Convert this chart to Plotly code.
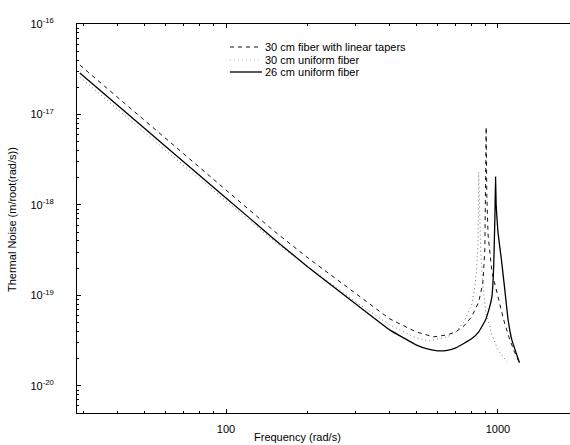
import plotly.graph_objects as go

# Frequencies (rad/s) and thermal noise (m/root(rad/s))
freq_taper = [29, 40, 60, 100, 150, 200, 300, 400, 500, 580, 650, 700, 750, 800, 850,
              880, 895, 900, 905, 910, 920, 950, 1000, 1050, 1100, 1150, 1200]
noise_taper = [3.52e-17, 1.54e-17, 5.43e-18, 1.465e-18, 5.16e-19, 2.60e-19, 1.04e-19,
               5.50e-20, 3.95e-20, 3.48e-20, 3.66e-20, 3.95e-20, 4.60e-20, 5.79e-20,
               8.48e-20, 1.374e-19, 3.18e-19, 8.81e-19, 7.28e-18, 1.29e-18, 4.66e-19,
               1.82e-19, 9.38e-20, 5.36e-20, 3.39e-20, 2.375e-20, 1.795e-20]

freq_30 = [29, 40, 60, 100, 150, 200, 300, 400, 500, 560, 650, 700, 750, 800, 820,
           835, 845, 850, 855, 865, 880, 900, 950, 1000, 1080]
noise_30 = [2.60e-17, 1.136e-17, 4.00e-18, 1.107e-18, 4.00e-19, 2.065e-19, 8.48e-20,
            4.72e-20, 3.39e-20, 3.14e-20, 3.48e-20, 3.95e-20, 5.10e-20, 7.85e-20,
            1.15e-19, 1.913e-19, 4.10e-19, 2.315e-18, 8.81e-19, 2.80e-19, 1.306e-19,
            6.92e-20, 3.66e-20, 2.50e-20, 1.842e-20]

freq_26 = [29, 40, 60, 100, 150, 200, 300, 400, 500, 550, 600, 650, 700, 800, 850, 900, 930,
           950, 960, 965, 975, 980, 985, 1000, 1030, 1060, 1090, 1125, 1200]
noise_26 = [2.87e-17, 1.257e-17, 4.43e-18, 1.195e-18, 4.21e-19, 2.065e-19, 8.05e-20,
            4.16e-20, 2.84e-20, 2.56e-20, 2.44e-20, 2.47e-20, 2.63e-20, 3.31e-20, 3.95e-20,
            5.36e-20, 7.28e-20, 9.63e-20, 1.48e-19, 2.17e-19, 7.75e-19, 2.04e-18, 1.0e-18,
            5.03e-19, 2.47e-19, 1.15e-19, 5.36e-20, 3.22e-20, 1.80e-20]

series_names = ["30 cm fiber with linear tapers", "30 cm uniform fiber", "26 cm uniform fiber"]
y_tick_vals = [1e-20, 1e-19, 1e-18, 1e-17, 1e-16]
y_tick_text = ["10<sup>-20</sup>", "10<sup>-19</sup>", "10<sup>-18</sup>",
               "10<sup>-17</sup>", "10<sup>-16</sup>"]
y_minor_vals = [m * 10.0 ** e for e in (-21, -20, -19, -18, -17) for m in range(2, 10)]
x_tick_vals = [100, 1000]
x_tick_text = ["100", "1000"]
x_minor_vals = [m * 10.0 ** e for e in (1, 2, 3) for m in range(2, 10)]

FONT = "Liberation Sans, Arial, sans-serif"

fig = go.Figure()
fig.add_trace(go.Scatter(x=freq_taper, y=noise_taper, mode="lines", name=series_names[0],
                         line=dict(color="#111", width=1, dash="4px,4px"), showlegend=False))
fig.add_trace(go.Scatter(x=freq_30, y=noise_30, mode="lines", name=series_names[1],
                         line=dict(color="#777", width=1, dash="1px,3px"), showlegend=False))
fig.add_trace(go.Scatter(x=freq_26, y=noise_26, mode="lines", name=series_names[2],
                         line=dict(color="#000", width=1.3, shape="spline", smoothing=0.3),
                         showlegend=False))

# legend drawn as key lines + text to match compact spacing
leg_rows = [47, 60, 72]
styles = [dict(color="#111", width=1, dash="4px,4px"),
          dict(color="#bbb", width=1, dash="1px,3px"),
          dict(color="#000", width=1.3)]
W, H = 570, 445
L, T, B = 77, 24, 32
pw, ph = W - L, H - T - B
for name, row, st in zip(series_names, leg_rows, styles):
    yp = (H - B - row) / ph
    fig.add_shape(type="line", xref="paper", yref="paper",
                  x0=(230 - L) / pw, x1=(262 - L) / pw, y0=yp, y1=yp,
                  line=st)
    fig.add_annotation(xref="paper", yref="paper", x=(263 - L) / pw, y=yp,
                       text=name, showarrow=False, xanchor="left", yanchor="middle",
                       font=dict(family=FONT, size=11, color="#000"))

fig.add_annotation(xref="paper", yref="paper", x=(297 - L) / pw, y=(H - B - 437) / ph,
                   text="Frequency (rad/s)", showarrow=False, xanchor="center",
                   yanchor="middle", font=dict(family=FONT, size=11, color="#000"))
fig.add_annotation(xref="paper", yref="paper", x=(12 - L) / pw, y=(H - B - 220) / ph,
                   text="Thermal Noise (m/root(rad/s))", showarrow=False, textangle=-90,
                   xanchor="center", yanchor="middle",
                   font=dict(family=FONT, size=11, color="#000"))

fig.update_layout(
    width=W, height=H,
    margin=dict(l=L, r=0, t=T, b=B),
    paper_bgcolor="white", plot_bgcolor="white",
    font=dict(family=FONT, size=11, color="#000"),
    showlegend=False,
)
fig.update_xaxes(type="log", range=[1.452, 3.265], tickvals=x_tick_vals, ticktext=x_tick_text,
                 showgrid=False, zeroline=False, showline=True, linecolor="#000", linewidth=1,
                 mirror="ticks", ticks="inside", ticklen=4, tickcolor="#000",
                 ticklabelstandoff=6,
                 minor=dict(tickvals=x_minor_vals, ticks="inside", ticklen=2,
                            tickcolor="#000", showgrid=False))
fig.update_yaxes(type="log", range=[-20.3, -16], tickvals=y_tick_vals, ticktext=y_tick_text,
                 showgrid=False, zeroline=False, showline=True, linecolor="#000", linewidth=1,
                 mirror=False, ticks="inside", ticklen=4, tickcolor="#000",
                 ticklabelstandoff=20,
                 minor=dict(tickvals=y_minor_vals, ticks="inside", ticklen=2,
                            tickcolor="#000", showgrid=False))

fig.write_html("out.html")
